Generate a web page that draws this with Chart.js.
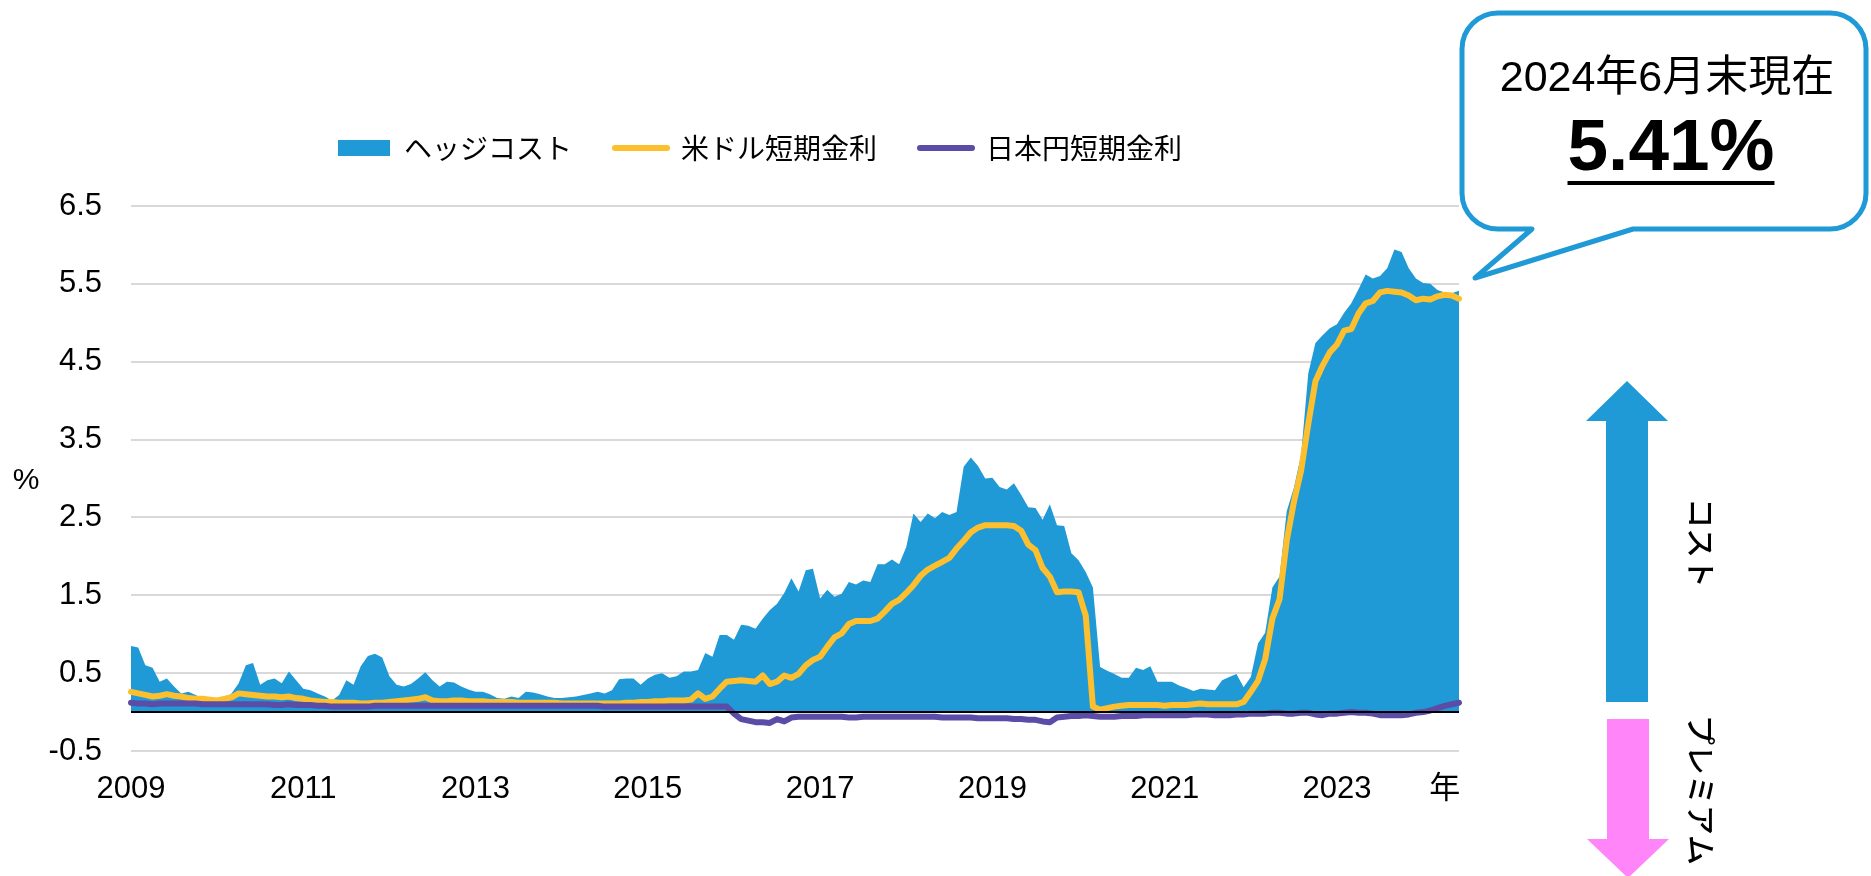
<!DOCTYPE html>
<html lang="ja">
<head>
<meta charset="utf-8">
<title>ヘッジコスト</title>
<script src="https://cdn.jsdelivr.net/npm/chart.js@4.4.1/dist/chart.umd.min.js"></script>
<style>
  html, body { margin: 0; padding: 0; background: #fff; }
  #wrap { position: relative; width: 1871px; height: 876px; }
</style>
</head>
<body>
<div id="wrap"><canvas id="chart" width="1871" height="876"></canvas></div>
<script>
// monthly, Jan 2009 - Jun 2024
const months = [];
for (let y = 2009; y <= 2024; y++) {
  for (let m = 1; m <= 12; m++) {
    if (y === 2024 && m > 6) break;
    months.push(y + "-" + String(m).padStart(2, "0"));
  }
}

const hedgeCost = [
  0.85, 0.83, 0.60, 0.57, 0.39, 0.43, 0.33, 0.24, 0.26, 0.22, 0.17, 0.17,
  0.16, 0.17, 0.24, 0.37, 0.60, 0.63, 0.35, 0.41, 0.43, 0.37, 0.52, 0.41,
  0.30, 0.28, 0.24, 0.20, 0.15, 0.22, 0.41, 0.35, 0.59, 0.72, 0.75, 0.70,
  0.46, 0.35, 0.33, 0.36, 0.43, 0.51, 0.41, 0.33, 0.39, 0.38, 0.33, 0.29,
  0.26, 0.26, 0.23, 0.18, 0.17, 0.20, 0.18, 0.26, 0.25, 0.23, 0.20, 0.18,
  0.18, 0.19, 0.20, 0.22, 0.24, 0.26, 0.24, 0.28, 0.42, 0.43, 0.43, 0.35,
  0.43, 0.48, 0.50, 0.44, 0.46, 0.52, 0.52, 0.54, 0.76, 0.71, 0.99, 0.99,
  0.93, 1.12, 1.11, 1.07, 1.20, 1.31, 1.39, 1.53, 1.72, 1.55, 1.82, 1.84,
  1.46, 1.57, 1.48, 1.52, 1.67, 1.64, 1.69, 1.67, 1.90, 1.90, 1.96, 1.90,
  2.12, 2.55, 2.44, 2.55, 2.49, 2.57, 2.53, 2.57, 3.15, 3.27, 3.16, 3.00,
  3.01, 2.89, 2.86, 2.94, 2.79, 2.63, 2.62, 2.47, 2.67, 2.40, 2.39, 2.04,
  1.95, 1.80, 1.60, 0.58, 0.53, 0.49, 0.44, 0.44, 0.57, 0.54, 0.59, 0.39,
  0.39, 0.39, 0.34, 0.31, 0.27, 0.30, 0.29, 0.28, 0.41, 0.45, 0.49, 0.32,
  0.45, 0.88, 1.02, 1.60, 1.74, 2.58, 2.88, 3.30, 4.35, 4.74, 4.84, 4.93,
  4.98, 5.13, 5.25, 5.43, 5.62, 5.57, 5.60, 5.70, 5.94, 5.91, 5.70, 5.57,
  5.51, 5.50, 5.42, 5.39, 5.38, 5.41
];

const usdRate = [
  0.26, 0.24, 0.22, 0.20, 0.21, 0.23, 0.21, 0.20, 0.18, 0.17, 0.17, 0.16,
  0.15, 0.17, 0.19, 0.24, 0.23, 0.22, 0.21, 0.20, 0.20, 0.19, 0.20, 0.18,
  0.17, 0.15, 0.14, 0.13, 0.13, 0.12, 0.12, 0.12, 0.11, 0.11, 0.12, 0.12,
  0.13, 0.14, 0.15, 0.16, 0.17, 0.19, 0.15, 0.14, 0.14, 0.15, 0.15, 0.14,
  0.14, 0.14, 0.13, 0.13, 0.13, 0.13, 0.12, 0.12, 0.12, 0.12, 0.12, 0.12,
  0.11, 0.11, 0.11, 0.11, 0.11, 0.11, 0.11, 0.11, 0.11, 0.12, 0.12, 0.13,
  0.13, 0.14, 0.14, 0.15, 0.15, 0.15, 0.16, 0.24, 0.17, 0.20, 0.30, 0.39,
  0.40, 0.41, 0.40, 0.39, 0.47, 0.36, 0.39, 0.47, 0.44, 0.49, 0.60, 0.67,
  0.71, 0.84, 0.96, 1.01, 1.13, 1.17, 1.17, 1.17, 1.20, 1.29, 1.39, 1.44,
  1.53, 1.63, 1.75, 1.83, 1.88, 1.93, 1.98, 2.10, 2.20, 2.31, 2.37, 2.40,
  2.40, 2.40, 2.40, 2.39, 2.33, 2.15, 2.08, 1.85, 1.74, 1.54, 1.55, 1.55,
  1.54, 1.24, 0.07, 0.03, 0.05, 0.07, 0.08, 0.09, 0.09, 0.09, 0.09, 0.09,
  0.08, 0.09, 0.09, 0.09, 0.10, 0.11, 0.10, 0.10, 0.10, 0.10, 0.10, 0.13,
  0.26, 0.40, 0.68, 1.20, 1.45, 2.20, 2.70, 3.10, 3.70, 4.25, 4.45, 4.62,
  4.72, 4.90, 4.92, 5.12, 5.25, 5.28, 5.39, 5.41, 5.40, 5.39, 5.35, 5.29,
  5.31, 5.30, 5.34, 5.36, 5.35, 5.31
];

const jpyRate = [
  0.12, 0.11, 0.11, 0.10, 0.11, 0.11, 0.11, 0.11, 0.11, 0.11, 0.10, 0.10,
  0.10, 0.10, 0.10, 0.10, 0.10, 0.10, 0.10, 0.10, 0.09, 0.09, 0.10, 0.09,
  0.09, 0.09, 0.08, 0.08, 0.07, 0.07, 0.07, 0.07, 0.07, 0.07, 0.08, 0.08,
  0.08, 0.08, 0.08, 0.08, 0.08, 0.08, 0.08, 0.08, 0.08, 0.08, 0.08, 0.08,
  0.08, 0.08, 0.08, 0.08, 0.08, 0.08, 0.08, 0.08, 0.08, 0.08, 0.08, 0.08,
  0.08, 0.08, 0.08, 0.08, 0.08, 0.08, 0.07, 0.07, 0.07, 0.07, 0.07, 0.07,
  0.07, 0.07, 0.07, 0.07, 0.07, 0.07, 0.07, 0.07, 0.07, 0.07, 0.07, 0.07,
  -0.02, -0.09, -0.11, -0.13, -0.13, -0.14, -0.09, -0.12, -0.07, -0.06, -0.06, -0.06,
  -0.06, -0.06, -0.06, -0.06, -0.07, -0.07, -0.06, -0.06, -0.06, -0.06, -0.06, -0.06,
  -0.06, -0.06, -0.06, -0.06, -0.06, -0.07, -0.07, -0.07, -0.07, -0.07, -0.08, -0.08,
  -0.08, -0.08, -0.08, -0.09, -0.09, -0.10, -0.10, -0.12, -0.13, -0.07, -0.06, -0.05,
  -0.05, -0.04, -0.05, -0.06, -0.06, -0.06, -0.05, -0.05, -0.05, -0.04, -0.04, -0.04,
  -0.04, -0.04, -0.04, -0.04, -0.03, -0.03, -0.03, -0.04, -0.04, -0.04, -0.03, -0.03,
  -0.02, -0.02, -0.02, -0.01, -0.01, -0.02, -0.02, -0.01, -0.01, -0.03, -0.04, -0.02,
  -0.02, -0.01, 0.00, -0.01, -0.01, -0.02, -0.04, -0.04, -0.04, -0.04, -0.03, -0.01,
  0.00, 0.02, 0.05, 0.08, 0.10, 0.12
];

const yTicks = [-0.5, 0.5, 1.5, 2.5, 3.5, 4.5, 5.5, 6.5];
const xTickIdx = [0, 24, 48, 72, 96, 120, 144, 168];
const yearMarkIdx = 183;

const BLUE = "#1F9AD6";
const ORANGE = "#FDBF2D";
const PURPLE = "#5B4CA8";
const PINK = "#FF85F8";
const LATIN = "'Liberation Sans', Arial, 'Noto Sans CJK JP', sans-serif";
const CJK = "'Noto Sans CJK JP', 'Liberation Sans', sans-serif";

const extras = {
  id: "extras",
  afterDatasetsDraw(chart) {
    const { ctx, chartArea, scales } = chart;
    const y0 = scales.y.getPixelForValue(0);
    ctx.save();
    ctx.strokeStyle = "#000";
    ctx.lineWidth = 2;
    ctx.beginPath();
    ctx.moveTo(chartArea.left, y0);
    ctx.lineTo(chartArea.right, y0);
    ctx.stroke();
    ctx.restore();
  },
  afterDraw(chart) {
    const ctx = chart.ctx;
    ctx.save();
    ctx.fillStyle = "#000";
    ctx.textAlign = "center";
    ctx.textBaseline = "middle";
    ctx.font = "30px " + LATIN;
    ctx.fillText("%", 26, 481);

    // speech bubble
    const L = 1462, T = 13, R = 1866, B = 229, r = 36;
    ctx.beginPath();
    ctx.moveTo(L + r, T);
    ctx.lineTo(R - r, T);
    ctx.arcTo(R, T, R, T + r, r);
    ctx.lineTo(R, B - r);
    ctx.arcTo(R, B, R - r, B, r);
    ctx.lineTo(1633, B);
    ctx.lineTo(1475, 278);
    ctx.lineTo(1532, B);
    ctx.lineTo(L + r, B);
    ctx.arcTo(L, B, L, B - r, r);
    ctx.lineTo(L, T + r);
    ctx.arcTo(L, T, L + r, T, r);
    ctx.closePath();
    ctx.fillStyle = "#fff";
    ctx.fill();
    ctx.lineWidth = 5;
    ctx.lineJoin = "round";
    ctx.strokeStyle = BLUE;
    ctx.stroke();

    ctx.fillStyle = "#000";
    ctx.font = "43px " + LATIN;
    ctx.fillText("2024年6月末現在", 1667, 79);
    ctx.font = "bold 73px " + LATIN;
    const big = "5.41%";
    ctx.fillText(big, 1671, 150);
    const w = ctx.measureText(big).width;
    ctx.fillRect(1671 - w / 2, 181, w, 4);

    // cost arrow
    ctx.fillStyle = BLUE;
    ctx.beginPath();
    ctx.moveTo(1627, 381);
    ctx.lineTo(1668, 421);
    ctx.lineTo(1648, 421);
    ctx.lineTo(1648, 702);
    ctx.lineTo(1606, 702);
    ctx.lineTo(1606, 421);
    ctx.lineTo(1586, 421);
    ctx.closePath();
    ctx.fill();

    // premium arrow
    ctx.fillStyle = PINK;
    ctx.beginPath();
    ctx.moveTo(1607, 719);
    ctx.lineTo(1649, 719);
    ctx.lineTo(1649, 839);
    ctx.lineTo(1669, 839);
    ctx.lineTo(1628, 878);
    ctx.lineTo(1587, 839);
    ctx.lineTo(1607, 839);
    ctx.closePath();
    ctx.fill();

    ctx.fillStyle = "#000";
    ctx.font = "500 30px " + CJK;
    [["コスト", 1701, 543], ["プレミアム", 1701, 790]].forEach(([t, x, y]) => {
      ctx.save();
      ctx.translate(x, y);
      ctx.rotate(Math.PI / 2);
      ctx.fillText(t, 0, 0);
      ctx.restore();
    });
    ctx.restore();
  }
};

new Chart(document.getElementById("chart"), {
  type: "line",
  data: {
    labels: months,
    datasets: [
      {
        label: "ヘッジコスト",
        data: hedgeCost,
        fill: "origin",
        backgroundColor: BLUE,
        borderColor: BLUE,
        borderWidth: 0,
        pointRadius: 0,
        tension: 0,
        order: 3
      },
      {
        label: "米ドル短期金利",
        data: usdRate,
        fill: false,
        borderColor: ORANGE,
        borderWidth: 6,
        borderJoinStyle: "round",
        borderCapStyle: "round",
        pointRadius: 0,
        tension: 0,
        order: 2
      },
      {
        label: "日本円短期金利",
        data: jpyRate,
        fill: false,
        borderColor: PURPLE,
        borderWidth: 6,
        borderJoinStyle: "round",
        borderCapStyle: "round",
        pointRadius: 0,
        tension: 0,
        order: 1
      }
    ]
  },
  options: {
    responsive: false,
    animation: false,
    layout: { padding: { top: 91, right: 351, bottom: 0, left: 0 } },
    plugins: {
      tooltip: { enabled: false },
      legend: {
        position: "top",
        labels: {
          usePointStyle: true,
          pointStyleWidth: 52,
          boxHeight: 16,
          padding: 43,
          color: "#000",
          font: { size: 28, family: CJK },
          generateLabels: (chart) => chart.data.datasets.map((ds, i) => ({
            text: ds.label,
            datasetIndex: i,
            fillStyle: ds.borderColor,
            strokeStyle: ds.borderColor,
            lineWidth: i === 0 ? 0 : 6,
            lineCap: "round",
            pointStyle: i === 0 ? "rect" : "line",
            fontColor: "#000",
            hidden: false
          }))
        }
      }
    },
    scales: {
      x: {
        type: "category",
        grid: { display: false, drawTicks: false },
        border: { display: false },
        ticks: {
          autoSkip: false,
          maxRotation: 0,
          padding: 20,
          color: "#000",
          font: { size: 31, family: LATIN },
          callback: (v) => v === yearMarkIdx ? "年" : months[v].slice(0, 4)
        },
        afterBuildTicks: (s) => {
          s.ticks = xTickIdx.concat([yearMarkIdx]).map((v) => ({ value: v }));
        },
        afterFit: (s) => { s.height = 125; }
      },
      // empty band between legend and plot
      xTop: {
        type: "linear",
        position: "top",
        grid: { display: false, drawTicks: false },
        border: { display: false },
        ticks: { display: false },
        afterFit: (s) => { s.height = 34; }
      },
      y: {
        min: -0.5,
        max: 6.5,
        grid: { color: "#D9D9D9", lineWidth: 2, drawTicks: false },
        border: { display: false },
        ticks: {
          padding: 29,
          color: "#000",
          font: { size: 31, family: LATIN },
          callback: (v) => v.toFixed(1)
        },
        afterBuildTicks: (s) => { s.ticks = yTicks.map((v) => ({ value: v })); },
        afterFit: (s) => { s.width = 131; }
      },
      yPad: {
        position: "right",
        grid: { display: false, drawTicks: false },
        border: { display: false },
        ticks: { display: false },
        afterFit: (s) => { s.width = 61; }
      }
    }
  },
  plugins: [extras]
});
</script>
</body>
</html>
